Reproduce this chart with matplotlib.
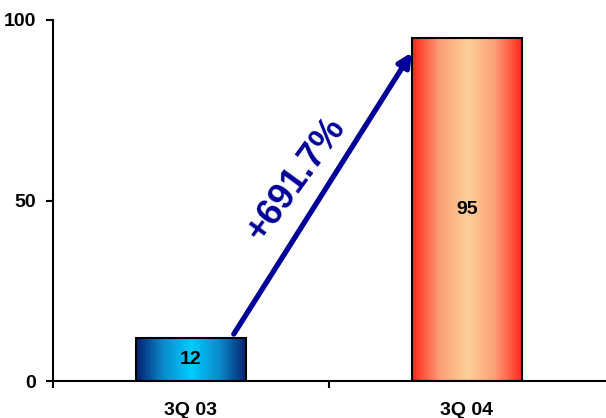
import matplotlib.pyplot as plt
import numpy as np
from matplotlib.colors import LinearSegmentedColormap

# quarterly values
quarters = ['3Q 03', '3Q 04']
values = [12, 95]
yticks = [0, 50, 100]

plt.rcParams['font.family'] = ['Liberation Sans', 'DejaVu Sans']
plt.rcParams['font.weight'] = 'bold'

blue_cmap = LinearSegmentedColormap.from_list('blue_bar', ['#06206e', '#0a8ccc', '#00ccff', '#0a8ccc', '#06206e'])
red_cmap = LinearSegmentedColormap.from_list('red_bar', ['#ff2418', '#fc9e78', '#fdd09a', '#fc9e78', '#ff2418'])
cmaps = [blue_cmap, red_cmap]

fig = plt.figure(figsize=(6.06, 4.18), dpi=100)
ax = fig.add_axes([53 / 606, 37 / 418, 552 / 606, 361 / 418])

width = 0.4
x = np.arange(len(quarters))
bars = ax.bar(x, values, width=width, facecolor='none', edgecolor='black', linewidth=1.5, zorder=3)

# horizontal gradient fill clipped to each bar
grad = np.linspace(0, 1, 256).reshape(1, -1)
for bar, cmap in zip(bars, cmaps):
    x0, y0 = bar.get_x(), bar.get_y()
    w, h = bar.get_width(), bar.get_height()
    im = ax.imshow(grad, cmap=cmap, aspect='auto', extent=[x0, x0 + w, y0, y0 + h], zorder=2)
    im.set_clip_path(bar)

for xi, v in zip(x, values):
    ax.text(xi, v / 2, str(v), ha='center', va='center', fontsize=14, fontweight='bold', zorder=4)

# growth arrow from the first bar to the second
growth = (values[1] - values[0]) / values[0] * 100
ax.annotate('', xy=(1 - width / 2, values[1] - 4), xytext=(0.155, values[0] + 1),
            arrowprops=dict(arrowstyle='-|>', color='#000099', lw=3.8, mutation_scale=20, shrinkA=0, shrinkB=0),
            zorder=5)
ax.text(0.38, 56, f'+{growth:.1f}%', rotation=54, ha='center', va='center',
        fontsize=26, fontweight='bold', color='#000099', rotation_mode='anchor')

ax.set_xlim(-0.5, 1.5)
ax.set_ylim(0, 100)
ax.set_yticks(yticks)
ax.set_xticks(x)
ax.set_xticklabels(quarters)
ax.set_xticks([-0.5, 0.5], minor=True)
ax.tick_params(axis='x', which='major', length=0, pad=15, labelsize=14)
ax.tick_params(axis='x', which='minor', length=5, width=1.5, direction='out')
ax.tick_params(axis='y', length=5, width=1.5, pad=7, labelsize=14)
for lbl in ax.get_xticklabels() + ax.get_yticklabels():
    lbl.set_fontweight('bold')

ax.spines['top'].set_visible(False)
ax.spines['right'].set_visible(False)
ax.spines['left'].set_linewidth(1.5)
ax.spines['bottom'].set_linewidth(1.5)

fig.savefig('out.png', dpi=100)
